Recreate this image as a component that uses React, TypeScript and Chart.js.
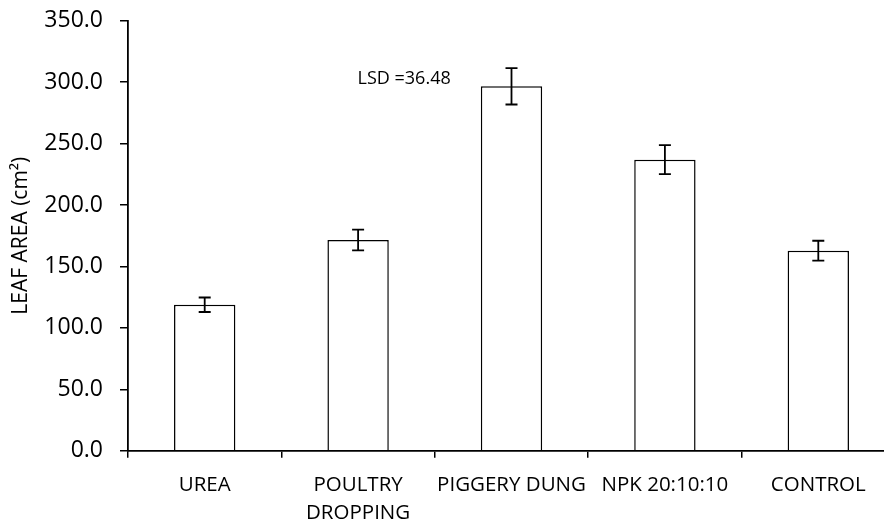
import React, { useEffect, useRef } from "react";
import { Chart, registerables } from "chart.js";

Chart.register(...registerables);

const categories: (string | string[])[] = [
  "UREA",
  ["POULTRY", "DROPPING"],
  "PIGGERY DUNG",
  "NPK 20:10:10",
  "CONTROL",
];
const leafArea: number[] = [118.8, 171.5, 296.6, 236.9, 162.8];
const errorValues: number[] = [5.9, 8.5, 14.8, 11.8, 8.1];
const yAxisTitle = "LEAF AREA (cm\u00B2)";
const lsdText = "LSD =36.48";
const lsdPosition = { x: 1.3, y: 303 };
const Y_MIN = 0;
const Y_MAX = 350;
const Y_STEP = 50;

const FONT = "'Open Sans', 'DejaVu Sans', sans-serif";

const errorBarPlugin = {
  id: "errorBars",
  afterDatasetsDraw(chart: any) {
    const meta = chart.getDatasetMeta(0);
    const yScale = chart.scales.y;
    const ctx = chart.ctx;
    ctx.save();
    ctx.strokeStyle = "#000";
    ctx.lineWidth = 1.8;
    meta.data.forEach((bar: any, i: number) => {
      const v = leafArea[i];
      const e = errorValues[i];
      const x = bar.x;
      const yTop = yScale.getPixelForValue(v + e);
      const yBot = yScale.getPixelForValue(v - e);
      const cap = 6;
      ctx.beginPath();
      ctx.moveTo(x, yTop);
      ctx.lineTo(x, yBot);
      ctx.moveTo(x - cap, yTop);
      ctx.lineTo(x + cap, yTop);
      ctx.moveTo(x - cap, yBot);
      ctx.lineTo(x + cap, yBot);
      ctx.stroke();
    });
    // LSD annotation
    const xScale = chart.scales.x;
    const lx = xScale.getPixelForValue(lsdPosition.x);
    const ly = yScale.getPixelForValue(lsdPosition.y);
    ctx.fillStyle = "#000";
    ctx.font = `18px ${FONT}`;
    ctx.textAlign = "center";
    ctx.textBaseline = "middle";
    ctx.fillText(lsdText, lx, ly);
    ctx.restore();
  },
};

export default function App() {
  const canvasRef = useRef<HTMLCanvasElement | null>(null);

  useEffect(() => {
    if (!canvasRef.current) return;
    const chart = new Chart(canvasRef.current, {
      type: "bar",
      data: {
        labels: categories,
        datasets: [
          {
            data: leafArea,
            backgroundColor: "#ffffff",
            borderColor: "#000000",
            borderWidth: 1.5,
            barPercentage: 0.4,
            categoryPercentage: 1,
          },
        ],
      },
      options: {
        responsive: false,
        animation: false,
        devicePixelRatio: 1,
        layout: { padding: { top: 20.7, right: 5, bottom: 0, left: 0 } },
        plugins: {
          legend: { display: false },
          tooltip: { enabled: false },
        },
        scales: {
          x: {
            grid: {
              display: true,
              drawOnChartArea: false,
              drawTicks: true,
              tickLength: 7,
              color: "#000",
              lineWidth: 1.5,
              offset: true,
            },
            border: { display: true, color: "#000", width: 1.8 },
            ticks: {
              color: "#000",
              font: { family: FONT, size: 20.5, lineHeight: 1.37 },
              padding: 13,
              maxRotation: 0,
              autoSkip: false,
            },
            afterFit(scale: any) {
              scale.height = 70.3;
              scale.paddingLeft = 0;
              scale.paddingRight = 0;
            },
          },
          y: {
            min: Y_MIN,
            max: Y_MAX,
            grid: {
              display: true,
              drawOnChartArea: false,
              drawTicks: true,
              tickLength: 8,
              color: "#000",
              lineWidth: 1.5,
            },
            border: { display: true, color: "#000", width: 1.8 },
            ticks: {
              stepSize: Y_STEP,
              color: "#000",
              font: { family: FONT, size: 23 },
              padding: 17,
              callback: (v: any) => Number(v).toFixed(1),
            },
            title: {
              display: true,
              text: yAxisTitle,
              color: "#000",
              font: { family: FONT, size: 21 },
              padding: { top: 8, bottom: 0 },
            },
            afterFit(scale: any) {
              scale.width = 128;
              scale.paddingTop = 0;
              scale.paddingBottom = 0;
            },
          },
        },
      },
      plugins: [errorBarPlugin],
    });
    return () => chart.destroy();
  }, []);

  return (
    <div
      style={{
        position: "fixed",
        left: 0,
        top: 0,
        width: 884,
        height: 521,
        overflow: "hidden",
        background: "#fff",
      }}
    >
      <canvas
        ref={canvasRef}
        width={900}
        height={521}
        style={{ width: 900, height: 521, display: "block" }}
      />
    </div>
  );
}
